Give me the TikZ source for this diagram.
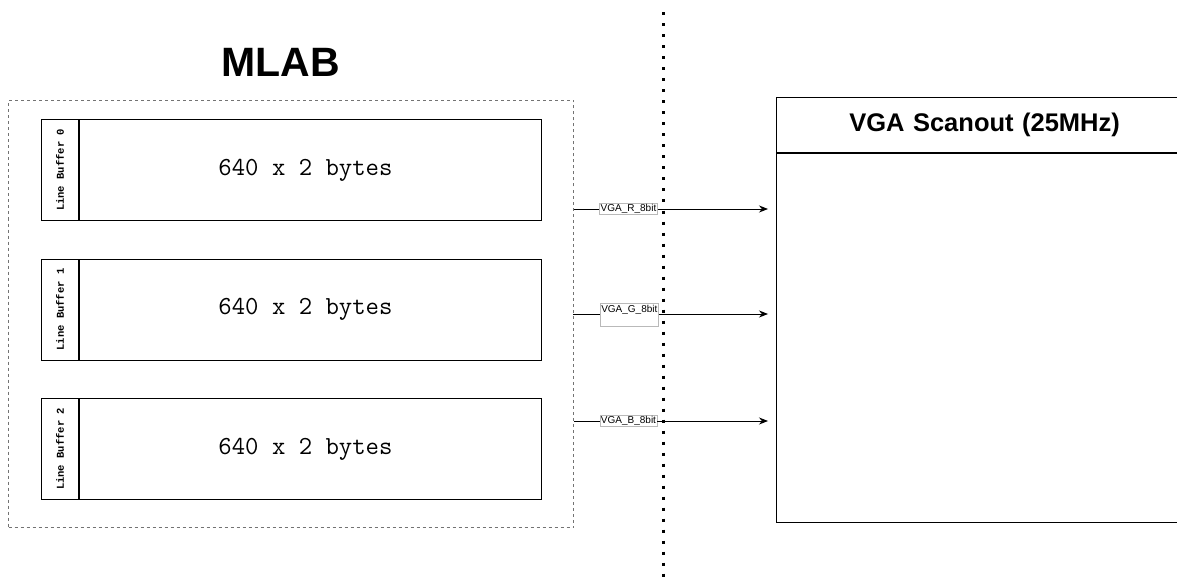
\documentclass[tikz,border=0pt]{standalone}
\usepackage{fontspec}
\setmainfont{Liberation Sans}
\setmonofont{Liberation Mono}
\newfontfamily\courierlike{Latin Modern Mono}
\usetikzlibrary{arrows.meta,positioning}

\begin{document}
\begin{tikzpicture}[
  x=1pt, y=-1pt,
  >={Stealth[length=9pt,width=7pt]},
  bufTag/.style={draw, line width=1pt, minimum width=37pt, minimum height=101pt,
                 inner sep=0pt, font=\ttfamily\bfseries\fontsize{10.5}{12}\selectfont},
  bufBody/.style={draw, line width=1pt, minimum width=462pt, minimum height=101pt,
                  inner sep=0pt, font=\courierlike\fontsize{26}{30}\selectfont},
  group/.style={draw=gray!90!black, line width=1pt, dash pattern=on 3pt off 3pt},
  wire/.style={line width=0.9pt},
  sig/.style={draw=gray!55, line width=0.5pt, fill=white, inner sep=1pt,
              font=\fontsize{10}{12}\selectfont},
  title/.style={font=\bfseries\fontsize{25.5}{30}\selectfont}
]
\clip (0,0) rectangle (1177,580);

%% clock domain border
\draw[line width=3pt, dash pattern=on 3pt off 8pt] (663,12.5) -- (663,590);

%% MLAB line buffers
\node[group, minimum width=565pt, minimum height=427pt, anchor=north west]
  (mlab) at (8,100) {};
\node[font=\bfseries\fontsize{41}{46}\selectfont] (mlabT) at (281,62) {MLAB};

\node[bufTag, anchor=north west] (tag0) at (41,119)
  {\rotatebox{90}{Line Buffer 0}};
\node[bufBody, right=0pt of tag0] (buf0) {\hspace*{-10pt}640 x 2 bytes};

\node[bufTag, anchor=north west] (tag1) at (41,258.5)
  {\rotatebox{90}{Line Buffer 1}};
\node[bufBody, right=0pt of tag1] (buf1) {\hspace*{-10pt}640 x 2 bytes};

\node[bufTag, anchor=north west] (tag2) at (41,398)
  {\rotatebox{90}{Line Buffer 2}};
\node[bufBody, right=0pt of tag2] (buf2) {\hspace*{-10pt}640 x 2 bytes};

%% scanout block
\node[draw, line width=1.2pt, title, minimum width=416pt, minimum height=55pt,
      anchor=north west, text width=400pt, align=center, inner sep=0pt]
  (scan) at (776,97) {VGA Scanout (25MHz)};
\node[draw, line width=1.2pt, minimum width=416pt, minimum height=369pt,
      anchor=north west, inner sep=0pt]
  (scanBody) at (scan.south west) {};

%% colour channels
\node[sig] (lblR) at (628.5,209) {VGA\_R\_8bit};
\node[sig, text height=8pt, text depth=13pt, anchor=north west] (lblG) at (600,303)
  {VGA\_G\_8bit};
\node[sig] (lblB) at (628.5,421) {VGA\_B\_8bit};

\coordinate (rOut) at (mlab.east |- lblR);
\coordinate (gOut) at (573,314);
\coordinate (bOut) at (mlab.east |- lblB);
\coordinate (rIn) at ([xshift=-8pt]scanBody.west |- rOut);
\coordinate (gIn) at ([xshift=-8pt]scanBody.west |- gOut);
\coordinate (bIn) at ([xshift=-8pt]scanBody.west |- bOut);

\draw[wire] (rOut) -- (lblR.west);
\draw[wire, ->] (lblR.east) -- (rIn);
\draw[wire] (gOut) -- (gOut -| lblG.west);
\draw[wire, ->] (gOut -| lblG.east) -- (gIn);
\draw[wire] (bOut) -- (lblB.west);
\draw[wire, ->] (lblB.east) -- (bIn);

\end{tikzpicture}
\end{document}
